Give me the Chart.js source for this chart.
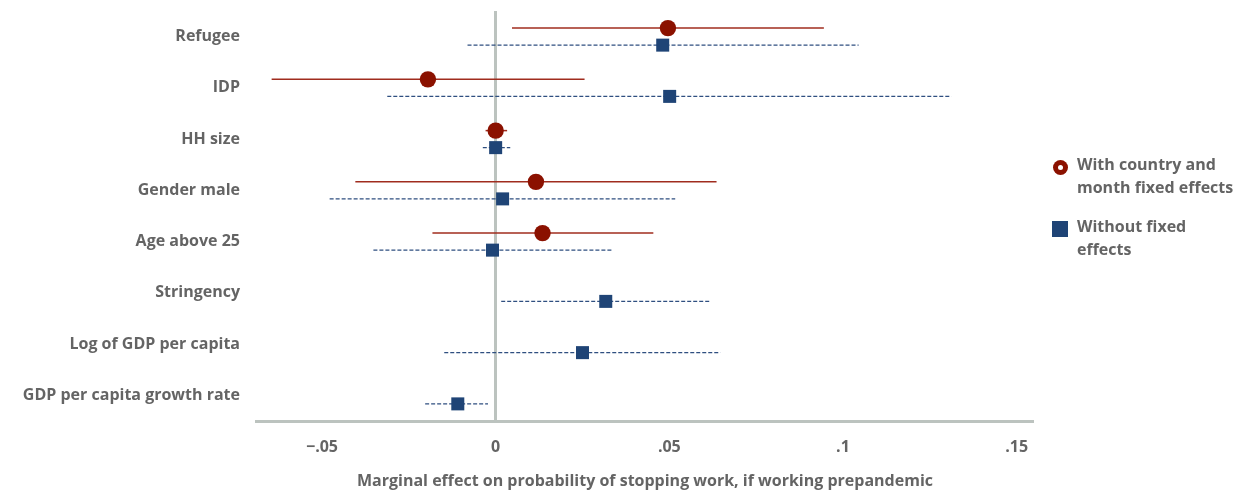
<!DOCTYPE html>
<html lang="en">
<head>
  <meta charset="UTF-8">
  <title>Marginal effect on probability of stopping work</title>
  <script src="https://cdn.jsdelivr.net/npm/chart.js"></script>
  <style>
    body { margin: 0; background: #fff; overflow: hidden; }
    .wrap { position: relative; width: 1251px; height: 491px; }
    canvas { display: block; }
    .legenda { position: absolute; left: 1052px; top: 0; font-family: "Open Sans", sans-serif; font-weight: 700; font-size: 16px; line-height: 23px; color: #646464; }
    .legenda .item { position: absolute; left: 0; width: 200px; }
    .legenda .txt { margin-left: 25px; white-space: nowrap; }
    .mk-circ { position: absolute; left: 1px; width: 15px; height: 15px; border-radius: 50%; background: #8b1100; }
    .mk-circ::after { content: ""; position: absolute; left: 5px; top: 5px; width: 5px; height: 5px; border-radius: 50%; background: #fff; }
    .mk-quad { position: absolute; left: 0; width: 16px; height: 16px; background: #1f4476; }
  </style>
</head>
<body>
  <div class="wrap">
    <canvas id="grafico" width="1251" height="491"></canvas>
    <div class="legenda">
      <div class="item" style="top:153px">
        <div class="mk-circ" style="top:7px"></div>
        <div class="txt">With country and<br>month fixed effects</div>
      </div>
      <div class="item" style="top:215px">
        <div class="mk-quad" style="top:6px"></div>
        <div class="txt">Without fixed<br>effects</div>
      </div>
    </div>
  </div>

<script>
  // categorias e valores
  const categorias = ['Refugee', 'IDP', 'HH size', 'Gender male', 'Age above 25',
    'Stringency', 'Log of GDP per capita', 'GDP per capita growth rate'];

  // com efeitos fixos de país e mês
  const comFixoEst = [0.0496, -0.0195, 0.0000, 0.0116, 0.0135, null, null, null];
  const comFixoMin = [0.0047, -0.0645, -0.0029, -0.0404, -0.0182, null, null, null];
  const comFixoMax = [0.0945, 0.0256, 0.0033, 0.0636, 0.0454, null, null, null];

  // sem efeitos fixos
  const semFixoEst = [0.0481, 0.0501, 0.0000, 0.0020, -0.0009, 0.0317, 0.0250, -0.0109];
  const semFixoMin = [-0.0081, -0.0312, -0.0037, -0.0478, -0.0352, 0.0016, -0.0148, -0.0203];
  const semFixoMax = [0.1045, 0.1312, 0.0042, 0.0517, 0.0335, 0.0619, 0.0647, -0.0022];

  const ticksX = [-0.05, 0, 0.05, 0.1, 0.15];
  const tituloX = 'Marginal effect on probability of stopping work, if working prepandemic';

  const desloc = 0.166; // distância vertical entre as duas séries
  const fonte = '"Open Sans", sans-serif';
  const cinza = '#646464';

  let datasets = [];

  // linhas dos intervalos
  for (let i = 0; i < categorias.length; i++) {
    if (comFixoEst[i] !== null) {
      datasets.push({
        data: [{ x: comFixoMin[i], y: i - desloc }, { x: comFixoMax[i], y: i - desloc }],
        showLine: true, borderColor: '#a02c1e', borderWidth: 1.5,
        pointRadius: 0, order: 2
      });
    }
    datasets.push({
      data: [{ x: semFixoMin[i], y: i + desloc }, { x: semFixoMax[i], y: i + desloc }],
      showLine: true, borderColor: '#2f4f80', borderWidth: 1.2, borderDash: [4, 2],
      pointRadius: 0, order: 2
    });
  }

  // pontos
  let ptsCom = [];
  let ptsSem = [];
  for (let i = 0; i < categorias.length; i++) {
    if (comFixoEst[i] !== null) ptsCom.push({ x: comFixoEst[i], y: i - desloc });
    ptsSem.push({ x: semFixoEst[i], y: i + desloc });
  }
  datasets.push({
    label: 'Without fixed effects', data: ptsSem, pointStyle: 'rect',
    pointRadius: 9.2, backgroundColor: '#1f4476', borderWidth: 0, order: 1
  });
  datasets.push({
    label: 'With country and month fixed effects', data: ptsCom, pointStyle: 'circle',
    pointRadius: 8.2, backgroundColor: '#8b1100', borderWidth: 0, order: 0
  });

  function fmtX(v) {
    if (v === 0) return '0';
    let s = String(Math.abs(v)).replace(/^0/, '');
    return v < 0 ? '\u2212' + s : s;
  }

  new Chart(document.getElementById('grafico'), {
    type: 'scatter',
    data: { datasets: datasets },
    options: {
      responsive: false,
      animation: false,
      layout: { padding: { top: 11, right: 217, bottom: 0, left: 0 } },
      plugins: { legend: { display: false }, tooltip: { enabled: false } },
      scales: {
        x: {
          min: -0.069, max: 0.155,
          afterBuildTicks: function (s) { s.ticks = ticksX.map(v => ({ value: v })); },
          afterFit: function (s) { s.height = 70; s.paddingLeft = 0; s.paddingRight = 0; },
          grid: {
            drawTicks: false,
            color: c => (c.tick && c.tick.value === 0) ? '#bcc3bf' : 'rgba(0,0,0,0)',
            lineWidth: c => (c.tick && c.tick.value === 0) ? 3 : 0
          },
          border: { display: true, color: '#bcc3bf', width: 3 },
          ticks: {
            padding: 17, color: cinza,
            font: { family: fonte, size: 16, weight: 'bold' },
            callback: v => fmtX(v)
          },
          title: {
            display: true, text: tituloX, color: cinza,
            font: { family: fonte, size: 16, weight: 'bold' },
            padding: { top: 0, bottom: 0 }
          }
        },
        y: {
          reverse: true, min: -0.5, max: 7.5,
          afterBuildTicks: function (s) { s.ticks = categorias.map((c, i) => ({ value: i })); },
          afterFit: function (s) { s.width = 256; s.paddingTop = 0; s.paddingBottom = 0; },
          grid: { display: false, drawTicks: false },
          border: { display: false },
          ticks: {
            padding: 16, color: cinza,
            font: { family: fonte, size: 16, weight: 'bold' },
            callback: v => categorias[v]
          }
        }
      }
    }
  });
</script>
</body>
</html>
